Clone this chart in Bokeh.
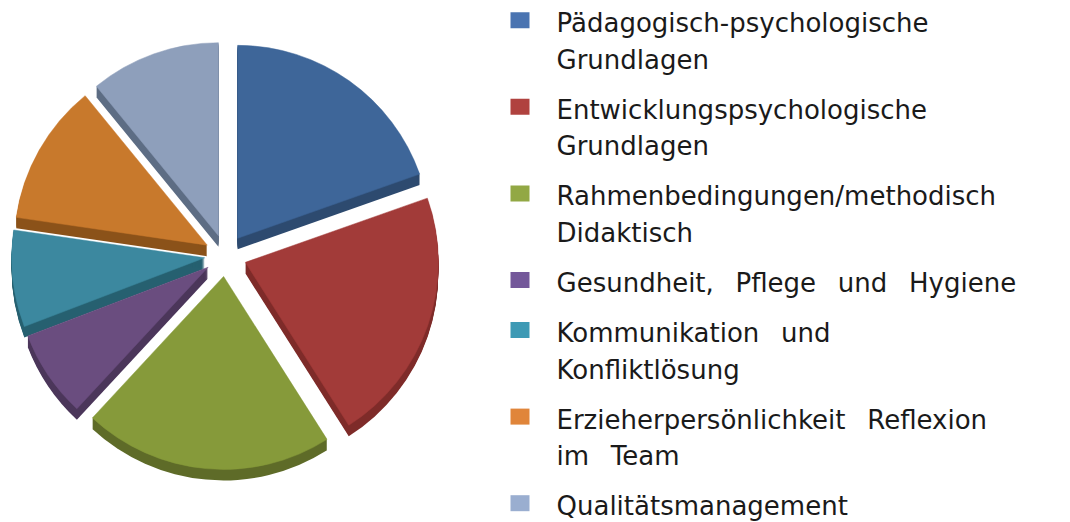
import math
from bokeh.plotting import figure
from bokeh.models import Range1d, ColumnDataSource
from bokeh.embed import file_html
from bokeh.resources import INLINE
from bokeh.core.properties import value

# ---- data ----
NB = " \u00a0\u2009"  # justified (wide) word spacing as in the reference
categories = [
    ["Pädagogisch-psychologische", "Grundlagen"],
    ["Entwicklungspsychologische", "Grundlagen"],
    ["Rahmenbedingungen/methodisch", "Didaktisch"],
    ["Gesundheit," + NB + "Pflege" + NB + "und" + NB + "Hygiene"],
    ["Kommunikation" + NB + "und", "Konfliktlösung"],
    ["Erzieherpersönlichkeit" + NB + "Reflexion", "im" + NB + "Team"],
    ["Qualitätsmanagement"],
]
values = [19.6, 21.4, 20.9, 7.3, 8.1, 11.8, 10.9]

top_colors = ["#3E6699", "#A23B39", "#869A3A", "#6A4D7F", "#3C889F", "#C8792C", "#8E9FBB"]
side_colors = ["#2D4A6F", "#7E2B29", "#5E6B28", "#4B365A", "#266070", "#8B5219", "#5D6D84"]
legend_colors = ["#4A74B1", "#B0423F", "#92A844", "#74589A", "#3E9AB5", "#E0853A", "#9AAED0"]

# ---- layout ----
W, H = 1070, 522
p = figure(width=W, height=H, x_range=Range1d(0, W), y_range=Range1d(0, H),
           output_backend="svg", toolbar_location=None, min_border=0)
p.axis.visible = False
p.grid.visible = False
p.outline_line_color = None
p.background_fill_color = "white"
p.border_fill_color = "white"

cx, cy = 225, 267
R = 193
explode = 21
depth = 11

total = sum(values)
xs, ys, starts, ends = [], [], [], []
a0 = 0.0
for v in values:
    a1 = a0 + v / total * 360.0
    mid = math.radians(90 - (a0 + a1) / 2)
    xs.append(cx + explode * math.cos(mid))
    ys.append(cy + explode * math.sin(mid))
    starts.append(math.radians(90 - a1))
    ends.append(math.radians(90 - a0))
    a0 = a1

# side (extrusion)
sx, sy, ss, se, sc = [], [], [], [], []
for k in range(1, depth + 1):
    for i in range(len(values)):
        sx.append(xs[i]); sy.append(ys[i] - k)
        ss.append(starts[i]); se.append(ends[i]); sc.append(side_colors[i])
p.wedge(x="x", y="y", radius=R, start_angle="s", end_angle="e",
        fill_color="c", line_color=None,
        source=ColumnDataSource(dict(x=sx, y=sy, s=ss, e=se, c=sc)))

# top faces
p.wedge(x="x", y="y", radius=R, start_angle="s", end_angle="e",
        fill_color="c", line_color="c", line_width=0.5,
        source=ColumnDataSource(dict(x=xs, y=ys, s=starts, e=ends, c=top_colors)))

# legend
mx, tx = 519.5, 556
base = H - 31.7          # first text baseline
text_shift = 9           # svg baseline compensation
line_step = 36.6
item_gap = 50
lx, ly, lt = [], [], []
rx, ry = [], []
y = base
for lines in categories:
    rx.append(mx); ry.append(y + 12)
    for j, t in enumerate(lines):
        lx.append(tx); ly.append(y - j * line_step + text_shift); lt.append(t)
    y -= item_gap + line_step * (len(lines) - 1)

p.rect(x=rx, y=ry, width=19, height=16, fill_color=legend_colors, line_color=None)
p.text(x=lx, y=ly, text=lt, text_font=value("DejaVu Sans"), text_font_size="26px",
       text_color="#1A1A1A", text_baseline="alphabetic", text_align="left")

open("out.html", "w").write(file_html(p, INLINE))
